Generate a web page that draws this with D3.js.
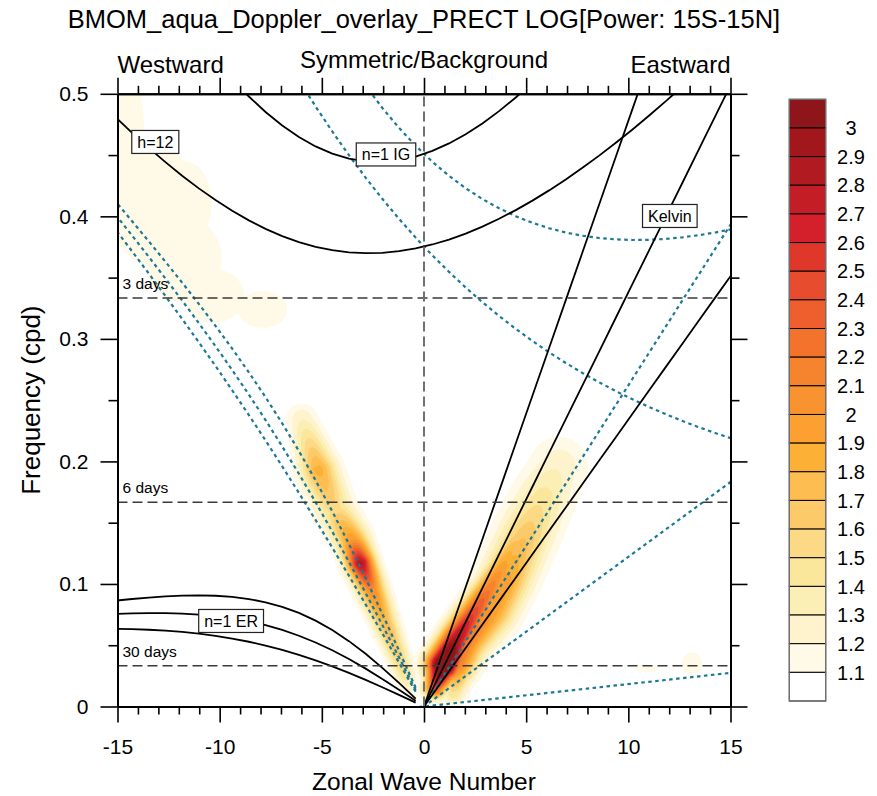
<!DOCTYPE html>
<meta charset="utf-8">
<script src="https://cdn.jsdelivr.net/npm/d3@7"></script>
<style>
  body { margin: 0; background: #fff; }
  text { font-family: "Liberation Sans", Arial, Helvetica, sans-serif; fill: #000; }
</style>
<body>
<script>

var width = 877
var height = 796

// contour levels and fill colours (first colour is below 1.1, last above 3)
var levels = [1.1, 1.2, 1.3, 1.4, 1.5, 1.6, 1.7, 1.8, 1.9, 2.0,
              2.1, 2.2, 2.3, 2.4, 2.5, 2.6, 2.7, 2.8, 2.9, 3.0]
var bandColors = ["#ffffff", "#fff9e7", "#fef3cd", "#fcefb6", "#fbe79b", "#fcda85",
                  "#fdca69", "#fdbd50", "#fdb036", "#fba031", "#f99330", "#f6842e",
                  "#f3722c", "#ee5f2d", "#e84c2e", "#e0372b", "#d4202a", "#c31d25",
                  "#b11a20", "#a2171c", "#8e1519"]

var xTicks = [-15, -10, -5, 0, 5, 10, 15]
var xMinor = [-14, -13, -12, -11, -9, -8, -7, -6, -4, -3, -2, -1, 1, 2, 3, 4, 6, 7, 8, 9, 11, 12, 13, 14]
var yTicks = [0, 0.1, 0.2, 0.3, 0.4, 0.5]
var yMinor = [0.05, 0.15, 0.25, 0.35, 0.45]

var periodDays = [3, 6, 30]

// shallow water dispersion curves: equivalent depths (m) and doppler wind (m/s)
var equivDepths = [50, 25, 12]
var dopplerU = -10
var nPlanetaryWave = 50

// power ridges: [wavenumber, frequency, log power, spread in wavenumbers]
var kelvinCore = [
  [0.55, 0.016, 2.5, 0.9],
  [0.95, 0.034, 3.6, 1.45],
  [1.6, 0.055, 2.9, 1.3],
  [2.4, 0.075, 2.5, 1.25],
  [3.2, 0.095, 2.2, 1.2],
  [3.9, 0.115, 1.95, 1.1],
  [4.5, 0.135, 1.7, 0.9]
]
var kelvinEnvelope = [
  [1.45, 0.012, 1.5, 0.8],
  [1.6, 0.034, 2.2, 1.35],
  [2.1, 0.054, 2.2, 1.55],
  [3.3, 0.079, 2.0, 1.7],
  [4.0, 0.103, 1.95, 1.75],
  [5.1, 0.144, 1.65, 1.75],
  [5.85, 0.171, 1.45, 1.65],
  [6.6, 0.196, 1.28, 1.45],
  [6.95, 0.209, 1.12, 0.6]
]
var erRidge = [
  [-5.97, 0.234, 1.3, 0.8],
  [-5.15, 0.193, 1.85, 1.3],
  [-4.35, 0.16, 1.55, 1.2],
  [-3.52, 0.136, 2.0, 1.2],
  [-3.1, 0.117, 2.85, 1.15],
  [-2.54, 0.095, 2.1, 1.05],
  [-1.96, 0.071, 1.8, 0.9],
  [-1.37, 0.046, 1.65, 0.75],
  [-0.93, 0.026, 1.5, 0.65],
  [-0.59, 0.009, 1.15, 0.3]
]
// faint patches: [wavenumber, frequency, log power, half width (wavenumber), half height (cpd)]
var faintPatches = [
  [-14.6, 0.47, 1.16, 0.9, 0.05],
  [-13.3, 0.41, 1.17, 2.1, 0.05],
  [-11.7, 0.41, 1.15, 1.3, 0.035],
  [-11.8, 0.365, 1.15, 1.9, 0.035],
  [-10.3, 0.335, 1.14, 1.5, 0.022],
  [-7.9, 0.324, 1.13, 1.2, 0.015],
  [13.1, 0.035, 1.14, 0.5, 0.009],
  [10.9, 0.031, 1.12, 0.6, 0.003]
]

var curveLabels = [
  {text: "h=12", k: -13.15, f: 0.4607},
  {text: "n=1 IG", k: -1.86, f: 0.4505},
  {text: "Kelvin", k: 12.03, f: 0.4003},
  {text: "n=1 ER", k: -9.44, f: 0.0698}
]

var x = d3.scaleLinear().domain([-15, 15]).range([117.5, 730.5])
var y = d3.scaleLinear().domain([0, 0.5]).range([706.5, 93.8])

var svg = d3.select("body").append("svg")
            .attr("width", width)
            .attr("height", height)

svg.append("defs").append("clipPath").attr("id", "plotclip")
   .append("rect")
   .attr("x", x(-15)).attr("y", y(0.5))
   .attr("width", x(15) - x(-15)).attr("height", y(0) - y(0.5))

// ---- power field ----
var pxPerK = x(1) - x(0)

function kernel(p, d2) {
  if (p <= 1.1) return 1 + (p - 1) * Math.exp(-d2)
  return 1 + (p - 1) * Math.exp(-Math.log((p - 1) / 0.1) * d2)
}

function ridgeAt(px, py, nodes) {
  var best = 0
  for (var n = 0; n < nodes.length - 1; n++) {
    var a = nodes[n], b = nodes[n + 1]
    var ax = x(a[0]), ay = y(a[1]), bx = x(b[0]), by = y(b[1])
    var ex = bx - ax, ey = by - ay
    var t = ((px - ax) * ex + (py - ay) * ey) / (ex * ex + ey * ey)
    t = Math.max(0, Math.min(1, t))
    var dx = px - (ax + t * ex), dy = py - (ay + t * ey)
    var p = a[2] + t * (b[2] - a[2])
    var w = (a[3] + t * (b[3] - a[3])) * pxPerK
    var v = kernel(p, (dx * dx + dy * dy) / (w * w))
    if (v > best) best = v
  }
  return best
}

function fieldAt(px, py) {
  var v = 1.0
  v = Math.max(v, ridgeAt(px, py, kelvinCore))
  v = Math.max(v, ridgeAt(px, py, kelvinEnvelope))
  v = Math.max(v, ridgeAt(px, py, erRidge))
  faintPatches.forEach(function(p) {
    var dx = (px - x(p[0])) / (p[3] * pxPerK)
    var dy = (py - y(p[1])) / (y(0) - y(p[4]))
    v = Math.max(v, kernel(p[2], dx * dx + dy * dy))
  })
  return v
}

var cell = 1.5
var gx0 = x(-15), gy0 = y(0.5)
var nx = Math.ceil((x(15) - x(-15)) / cell) + 2
var ny = Math.ceil((y(0) - y(0.5)) / cell) + 2
var grid = new Float64Array(nx * ny)
for (var j = 0; j < ny; j++) {
  for (var i = 0; i < nx; i++) {
    grid[j * nx + i] = fieldAt(gx0 + i * cell, gy0 + j * cell)
  }
}

var bands = d3.contours().size([nx, ny]).thresholds(levels)(grid)
var gridPath = d3.geoPath(d3.geoIdentity().scale(cell).translate([gx0 - 0.5 * cell, gy0 - 0.5 * cell]))

var plot = svg.append("g").attr("clip-path", "url(#plotclip)")

plot.append("g").attr("id", "field")
    .selectAll("path").data(bands).join("path")
    .attr("d", gridPath)
    .attr("fill", function(d, i) { return bandColors[i + 1] })
    .attr("stroke", "none")

// ---- dispersion curves ----
var re = 6.37122e6, grav = 9.80665, omegaE = 7.292e-05
var beta = 2 * omegaE / re

function dispersion(type, he, U) {
  var c = Math.sqrt(grav * he)
  var pts = []
  for (var wn = 1; wn <= nPlanetaryWave; wn++) {
    var s = -20 * (wn - 1) * 2 / (nPlanetaryWave - 1) + 20
    var k = s / re
    var deif = null
    if (type == "Kelvin") {
      deif = k * c
    } else if (type == "ER") {
      if (k < 0) {
        deif = beta * k / (k * k + 3 * beta / c)
        for (var it = 0; it < 5; it++) deif = beta * k / (k * k + 3 * beta / c - deif * deif / (c * c))
        deif = Math.abs(deif)
      }
    } else if (type == "IG") {
      deif = Math.sqrt(3 * beta * c + k * k * c * c)
      for (var it2 = 0; it2 < 5; it2++) deif = Math.sqrt(3 * beta * c + k * k * c * c + grav * he * beta * k / deif)
    }
    if (deif === null) { pts.push([s, null]); continue }
    var eif = deif + k * U
    pts.push([s, eif * 86400 / (2 * Math.PI)])
  }
  return pts
}

var curveLine = d3.line()
    .defined(function(d) { return d[1] !== null })
    .x(function(d) { return x(d[0]) })
    .y(function(d) { return y(d[1]) })

var waveTypes = ["Kelvin", "ER", "IG"]
waveTypes.forEach(function(t) {
  equivDepths.forEach(function(h) {
    plot.append("path").attr("d", curveLine(dispersion(t, h, dopplerU)))
        .attr("fill", "none").attr("stroke", "#1b7898").attr("stroke-width", 2.2)
        .attr("stroke-dasharray", "3.5,3.5")
  })
})
waveTypes.forEach(function(t) {
  equivDepths.forEach(function(h) {
    plot.append("path").attr("d", curveLine(dispersion(t, h, 0)))
        .attr("fill", "none").attr("stroke", "#000").attr("stroke-width", 1.8)
  })
})

// period lines
periodDays.forEach(function(p) {
  plot.append("line")
      .attr("x1", x(-15)).attr("x2", x(15))
      .attr("y1", y(1 / p)).attr("y2", y(1 / p))
      .attr("stroke", "#3a3a3a").attr("stroke-width", 1.5)
      .attr("stroke-dasharray", "10,5")
  svg.append("text")
     .attr("x", x(-15) + 5).attr("y", y(1 / p) - 9)
     .style("font-size", "15.5px")
     .text(p + " days")
})

plot.append("line")
    .attr("x1", x(0)).attr("x2", x(0))
    .attr("y1", y(0)).attr("y2", y(0.5))
    .attr("stroke", "#707070").attr("stroke-width", 2)
    .attr("stroke-dasharray", "10,5")

// curve labels
curveLabels.forEach(function(l) {
  var g = svg.append("g").attr("transform", "translate(" + x(l.k) + "," + y(l.f) + ")")
  var t = g.append("text").attr("text-anchor", "middle").attr("dy", "0.36em")
           .style("font-size", "16px").text(l.text)
  var w = t.node().getComputedTextLength() + 11
  g.insert("rect", "text")
   .attr("x", -w / 2).attr("y", -11.5).attr("width", w).attr("height", 23)
   .attr("fill", "#fff").attr("stroke", "#222").attr("stroke-width", 1.2)
})

// ---- axes ----
function styleAxis(g) {
  g.selectAll(".domain").attr("stroke", "#000").attr("stroke-width", 2)
  g.selectAll(".tick line").attr("stroke", "#000").attr("stroke-width", 1.6)
  g.selectAll("text").style("font-size", "21px").attr("fill", "#000")
    .style("font-family", "'Liberation Sans', Arial, sans-serif")
}

var fmt = function(d) { return String(d) }

svg.append("g").attr("transform", "translate(0," + y(0) + ")")
   .call(d3.axisBottom(x).tickValues(xTicks).tickSize(16).tickSizeOuter(0).tickPadding(17).tickFormat(fmt))
   .call(styleAxis)
svg.append("g").attr("transform", "translate(0," + y(0) + ")")
   .call(d3.axisBottom(x).tickValues(xMinor).tickSize(8).tickSizeOuter(0).tickFormat(""))
   .call(styleAxis)
svg.append("g").attr("transform", "translate(0," + y(0.5) + ")")
   .call(d3.axisTop(x).tickValues(xTicks).tickSize(16).tickSizeOuter(0).tickFormat(""))
   .call(styleAxis)
svg.append("g").attr("transform", "translate(0," + y(0.5) + ")")
   .call(d3.axisTop(x).tickValues(xMinor).tickSize(8).tickSizeOuter(0).tickFormat(""))
   .call(styleAxis)
svg.append("g").attr("transform", "translate(" + x(-15) + ",0)")
   .call(d3.axisLeft(y).tickValues(yTicks).tickSize(17).tickSizeOuter(0).tickPadding(12).tickFormat(fmt))
   .call(styleAxis)
svg.append("g").attr("transform", "translate(" + x(-15) + ",0)")
   .call(d3.axisLeft(y).tickValues(yMinor).tickSize(9).tickSizeOuter(0).tickFormat(""))
   .call(styleAxis)
svg.append("g").attr("transform", "translate(" + x(15) + ",0)")
   .call(d3.axisRight(y).tickValues(yTicks).tickSize(17).tickSizeOuter(0).tickFormat(""))
   .call(styleAxis)
svg.append("g").attr("transform", "translate(" + x(15) + ",0)")
   .call(d3.axisRight(y).tickValues(yMinor).tickSize(9).tickSizeOuter(0).tickFormat(""))
   .call(styleAxis)

// ---- titles ----
svg.append("text").attr("x", 424).attr("y", 28).attr("text-anchor", "middle")
   .style("font-size", "25.5px").text("BMOM_aqua_Doppler_overlay_PRECT LOG[Power: 15S-15N]")
svg.append("text").attr("x", x(-15)).attr("y", 73)
   .style("font-size", "24px").text("Westward")
svg.append("text").attr("x", x(0)).attr("y", 68).attr("text-anchor", "middle")
   .style("font-size", "24px").text("Symmetric/Background")
svg.append("text").attr("x", x(15)).attr("y", 73).attr("text-anchor", "end")
   .style("font-size", "24px").text("Eastward")
svg.append("text").attr("x", x(0)).attr("y", 790).attr("text-anchor", "middle")
   .style("font-size", "24.5px").text("Zonal Wave Number")
svg.append("text").attr("transform", "translate(40," + y(0.25) + ") rotate(-90)")
   .attr("text-anchor", "middle")
   .style("font-size", "26px").text("Frequency (cpd)")

// ---- colour bar ----
var cb = d3.scaleLinear().domain([0, bandColors.length]).range([99.3, 701])
var cbx = 789.3, cbw = 36.4
var cbar = svg.append("g")
cbar.selectAll("rect").data(bandColors.slice().reverse()).join("rect")
    .attr("x", cbx).attr("y", function(d, i) { return cb(i) })
    .attr("width", cbw).attr("height", function(d, i) { return cb(i + 1) - cb(i) })
    .attr("fill", function(d) { return d })
    .attr("stroke", "#000").attr("stroke-width", 1)
cbar.append("rect").attr("x", cbx).attr("y", cb(0)).attr("width", cbw)
    .attr("height", cb(bandColors.length) - cb(0))
    .attr("fill", "none").attr("stroke", "#777").attr("stroke-width", 1.2)
cbar.selectAll("text").data(levels.slice().reverse()).join("text")
    .attr("x", 851).attr("y", function(d, i) { return cb(i + 1) })
    .attr("dy", "0.36em").attr("text-anchor", "middle")
    .style("font-size", "20px")
    .text(function(d) { return String(d) })

</script>
</body>
